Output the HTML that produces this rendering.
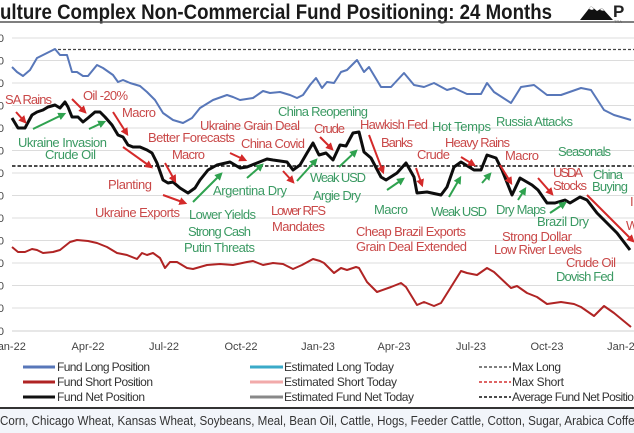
<!DOCTYPE html>
<html><head><meta charset="utf-8"><style>
html,body{margin:0;padding:0;background:#fff;}
svg{display:block;font-family:"Liberation Sans",sans-serif;}
</style></head><body>
<svg width="634" height="433" viewBox="0 0 634 433" xmlns="http://www.w3.org/2000/svg">
<defs>
<marker id="ar" viewBox="0 0 10 10" refX="7" refY="5" markerWidth="4" markerHeight="4" orient="auto"><path d="M0,0 L10,5 L0,10 z" fill="#d42a2a"/></marker>
<marker id="ag" viewBox="0 0 10 10" refX="7" refY="5" markerWidth="4" markerHeight="4" orient="auto"><path d="M0,0 L10,5 L0,10 z" fill="#2fa24f"/></marker>
</defs>
<rect x="0" y="0" width="634" height="433" fill="#fff"/>
<!-- title -->
<text x="0" y="19" font-size="21" font-weight="bold" fill="#1a1a1a" textLength="552" lengthAdjust="spacingAndGlyphs">ulture Complex Non-Commercial Fund Positioning: 24 Months</text>
<!-- logo -->
<polygon points="580,20 591,6 597,11 602,8 613,20" fill="#111"/>
<polygon points="589,9 591,6 594,9 592,10" fill="#fff"/>
<polygon points="600,10 602,8 604,11" fill="#fff"/>
<text x="613" y="17" font-size="17" font-weight="bold" fill="#222">P</text>
<text x="614" y="23" font-size="4" fill="#666">TRA</text>
<line x1="0" y1="22" x2="634" y2="22" stroke="#555" stroke-width="1.5"/>
<!-- gridlines -->
<g stroke="#dcdcdc" stroke-width="1">
<line x1="12" y1="38" x2="634" y2="38"/><line x1="12" y1="60.5" x2="634" y2="60.5"/>
<line x1="12" y1="83" x2="634" y2="83"/><line x1="12" y1="105.5" x2="634" y2="105.5"/>
<line x1="12" y1="128" x2="634" y2="128"/><line x1="12" y1="150.5" x2="634" y2="150.5"/>
<line x1="12" y1="173" x2="634" y2="173"/><line x1="12" y1="195.5" x2="634" y2="195.5"/>
<line x1="12" y1="218" x2="634" y2="218"/><line x1="12" y1="240.5" x2="634" y2="240.5"/>
<line x1="12" y1="263" x2="634" y2="263"/><line x1="12" y1="285.5" x2="634" y2="285.5"/>
<line x1="12" y1="308" x2="634" y2="308"/>
</g>
<line x1="12" y1="331" x2="634" y2="331" stroke="#cfcfcf" stroke-width="1"/>
<g font-size="11" fill="#444" text-anchor="end">
<text x="4" y="42">0</text><text x="4" y="64.5">0</text><text x="4" y="87">0</text><text x="4" y="109.5">0</text>
<text x="4" y="132">0</text><text x="4" y="154.5">0</text><text x="4" y="177">0</text><text x="4" y="199.5">0</text>
<text x="4" y="222">0</text><text x="4" y="244.5">0</text><text x="4" y="267">0</text><text x="4" y="289.5">0</text>
<text x="4" y="312">0</text><text x="4" y="335">0</text>
</g>
<!-- dashed reference lines -->
<line x1="53" y1="49.5" x2="634" y2="49.5" stroke="#444" stroke-width="1.3" stroke-dasharray="3,2"/>
<line x1="12" y1="166" x2="634" y2="166" stroke="#111" stroke-width="1.6" stroke-dasharray="3.5,2"/>
<!-- series -->
<polyline fill="none" stroke="#5877b9" stroke-width="2" stroke-linejoin="round" points="12,67 17,72 23,76 30,70 37,58 47,53 55,49 60,55 67,55 72,72 77,72 83,76 88,76 97,65 103,68 113,75 118,82 123,80 130,83 140,86 147,92 155,100 163,113 173,120 183,123 192,118 200,108 213,100 227,95 233,97 240,100 253,98 263,91 270,93 280,92 290,95 297,98 303,95 310,85 316,78 322,88 327,82 334,83 341,72 347,70 357,60 364,72 369,67 381,87 391,87 404,73 414,85 424,87 434,83 447,90 454,88 467,94 481,94 487,83 494,92 511,103 521,87 534,85 547,95 561,95 581,88 591,90 604,110 614,115 631,120"/>
<polyline fill="none" stroke="#b02424" stroke-width="2" stroke-linejoin="round" points="12,247 18,252 25,252 32,249 37,250 43,253 53,252 60,250 70,242 77,240 88,241 97,243 107,247 117,253 127,255 137,259 142,253 147,255 153,253 160,258 165,268 170,262 177,262 187,268 193,269 207,265 220,264 233,265 247,262 253,261 263,265 273,263 283,264 293,269 302,265 313,259 320,261 324,263 334,273 341,268 347,270 356,267 359,268 367,282 377,292 391,287 401,283 406,287 417,305 424,302 434,306 441,303 451,287 461,271 467,273 477,275 487,268 494,272 511,288 517,286 527,293 537,297 547,304 561,302 574,304 581,307 594,316 604,306 614,313 631,327"/>
<polyline fill="none" stroke="#0d0d0d" stroke-width="3" stroke-linejoin="round" points="12,118 18,128 25,128 32,115 37,112 43,110 48,107 55,105 60,108 65,102 68,107 72,117 78,117 83,122 88,118 95,112 100,112 105,117 112,125 118,135 123,137 128,145 133,147 140,147 147,150 152,153 157,163 163,180 168,183 173,182 180,188 188,193 195,188 200,180 208,170 217,165 230,162 240,168 247,167 257,163 267,159 273,160 287,162 293,170 300,165 307,153 313,143 319,155 326,153 333,160 340,145 346,146 353,133 359,132 364,152 371,158 381,177 386,180 397,173 406,163 414,177 417,193 427,192 441,195 447,187 454,167 461,162 474,170 481,170 487,155 496,158 502,170 512,195 520,178 532,185 538,190 547,203 555,203 565,200 570,203 580,197 587,200 597,213 607,223 617,233 630,250"/>
<!-- arrows -->
<g stroke="#d42a2a" stroke-width="2" marker-end="url(#ar)">
<line x1="16" y1="112" x2="25" y2="122"/><line x1="72" y1="99" x2="85" y2="112"/>
<line x1="113" y1="112" x2="127" y2="134"/><line x1="123" y1="147" x2="151" y2="167"/>
<line x1="165" y1="163" x2="175" y2="181"/><line x1="163" y1="195" x2="185" y2="203"/>
<line x1="230" y1="153" x2="245" y2="160"/><line x1="283" y1="171" x2="293" y2="182"/>
<line x1="320" y1="137" x2="332" y2="149"/><line x1="369" y1="135" x2="383" y2="172"/>
<line x1="416" y1="168" x2="422" y2="185"/><line x1="461" y1="157" x2="474" y2="165"/>
<line x1="500" y1="165" x2="511" y2="183"/><line x1="538" y1="178" x2="552" y2="194"/>
<line x1="587" y1="195" x2="633" y2="241"/>
</g>
<g stroke="#2fa24f" stroke-width="2" marker-end="url(#ag)">
<line x1="33" y1="129" x2="64" y2="114"/><line x1="89" y1="129" x2="104" y2="122"/>
<line x1="193" y1="202" x2="221" y2="174"/><line x1="247" y1="178" x2="262" y2="165"/>
<line x1="297" y1="181" x2="316" y2="160"/><line x1="339" y1="167" x2="356" y2="151"/>
<line x1="387" y1="190" x2="403" y2="179"/><line x1="449" y1="197" x2="460" y2="178"/>
<line x1="482" y1="183" x2="490" y2="174"/><line x1="518" y1="200" x2="525" y2="189"/>
<line x1="550" y1="213" x2="565" y2="203"/>
</g>
<!-- annotations red -->
<g font-size="13" fill="#c94848" lengthAdjust="spacingAndGlyphs">
<text x="5" y="104" textLength="47">SA Rains</text>
<text x="83" y="100" textLength="45">Oil -20%</text>
<text x="122" y="117" textLength="34">Macro</text>
<text x="148" y="142" textLength="87">Better Forecasts</text>
<text x="172" y="159" textLength="33">Macro</text>
<text x="200" y="130" textLength="100">Ukraine Grain Deal</text>
<text x="241" y="148" textLength="64">China Covid</text>
<text x="108" y="189" textLength="44">Planting</text>
<text x="95" y="217" textLength="85">Ukraine Exports</text>
<text x="271" y="215" textLength="55">Lower RFS</text>
<text x="272" y="231" textLength="53">Mandates</text>
<text x="314" y="133" textLength="31">Crude</text>
<text x="360" y="129" textLength="68">Hawkish Fed</text>
<text x="381" y="147" textLength="32">Banks</text>
<text x="417" y="159" textLength="33">Crude</text>
<text x="445" y="147" textLength="65">Heavy Rains</text>
<text x="505" y="160" textLength="34">Macro</text>
<text x="553" y="177" textLength="30">USDA</text>
<text x="553" y="190" textLength="34">Stocks</text>
<text x="356" y="236" textLength="110">Cheap Brazil Exports</text>
<text x="356" y="251" textLength="111">Grain Deal Extended</text>
<text x="502" y="241" textLength="70">Strong Dollar</text>
<text x="494" y="254" textLength="88">Low River Levels</text>
<text x="566" y="267" textLength="50">Crude Oil</text>
<text x="630" y="206">I</text>
<text x="626" y="230">W</text>
</g>
<!-- annotations green -->
<g font-size="13" fill="#3b9a63" lengthAdjust="spacingAndGlyphs">
<text x="18" y="147" textLength="89">Ukraine Invasion</text>
<text x="45" y="159" textLength="51">Crude Oil</text>
<text x="213" y="195" textLength="74">Argentina Dry</text>
<text x="189" y="219" textLength="67">Lower Yields</text>
<text x="188" y="236" textLength="63">Strong Cash</text>
<text x="184" y="252" textLength="71">Putin Threats</text>
<text x="310" y="182" textLength="56">Weak USD</text>
<text x="313" y="200" textLength="48">Argie Dry</text>
<text x="278" y="116" textLength="90">China Reopening</text>
<text x="432" y="131" textLength="59">Hot Temps</text>
<text x="496" y="126" textLength="77">Russia Attacks</text>
<text x="558" y="156" textLength="53">Seasonals</text>
<text x="593" y="179" textLength="30">China</text>
<text x="592" y="191" textLength="36">Buying</text>
<text x="374" y="214" textLength="34">Macro</text>
<text x="431" y="216" textLength="56">Weak USD</text>
<text x="496" y="214" textLength="50">Dry Maps</text>
<text x="537" y="226" textLength="52">Brazil Dry</text>
<text x="556" y="281" textLength="58">Dovish Fed</text>
</g>
<!-- x labels -->
<g font-size="11" fill="#444" text-anchor="middle">
<text x="9" y="350">Jan-22</text><text x="88" y="350">Apr-22</text><text x="164" y="350">Jul-22</text>
<text x="241" y="350">Oct-22</text><text x="318" y="350">Jan-23</text><text x="394" y="350">Apr-23</text>
<text x="471" y="350">Jul-23</text><text x="547" y="350">Oct-23</text><text x="624" y="350">Jan-24</text>
</g>
<!-- legend -->
<g stroke-width="3">
<line x1="23" y1="367" x2="55" y2="367" stroke="#5877b9"/>
<line x1="23" y1="382" x2="55" y2="382" stroke="#b02424"/>
<line x1="23" y1="397" x2="55" y2="397" stroke="#111"/>
<line x1="250" y1="367" x2="283" y2="367" stroke="#3aaac8"/>
<line x1="250" y1="382" x2="283" y2="382" stroke="#f2aaaa"/>
<line x1="250" y1="397" x2="283" y2="397" stroke="#888"/>
</g>
<g stroke-width="1.5" stroke-dasharray="3,2">
<line x1="479" y1="367" x2="511" y2="367" stroke="#555"/>
<line x1="479" y1="382" x2="511" y2="382" stroke="#d43030"/>
<line x1="479" y1="397" x2="511" y2="397" stroke="#111"/>
</g>
<g font-size="12" fill="#333" lengthAdjust="spacingAndGlyphs">
<text x="57" y="371" textLength="93">Fund Long Position</text>
<text x="57" y="386" textLength="96">Fund Short Position</text>
<text x="57" y="401" textLength="88">Fund Net Position</text>
<text x="284" y="371" textLength="110">Estimated Long Today</text>
<text x="284" y="386" textLength="113">Estimated Short Today</text>
<text x="284" y="401" textLength="130">Estimated Fund Net Today</text>
<text x="512" y="371" textLength="49">Max Long</text>
<text x="512" y="386" textLength="52">Max Short</text>
<text x="512" y="401" textLength="128">Average Fund Net Position</text>
</g>
<!-- bottom -->
<rect x="0" y="409" width="634" height="24" fill="#f2f5fa"/>
<line x1="0" y1="408" x2="634" y2="408" stroke="#333" stroke-width="2"/>
<text x="0" y="425" font-size="13" fill="#333" textLength="641" lengthAdjust="spacingAndGlyphs">Corn, Chicago Wheat, Kansas Wheat, Soybeans, Meal, Bean Oil, Cattle, Hogs, Feeder Cattle, Cotton, Sugar, Arabica Coffee</text>
</svg>
</body></html>
